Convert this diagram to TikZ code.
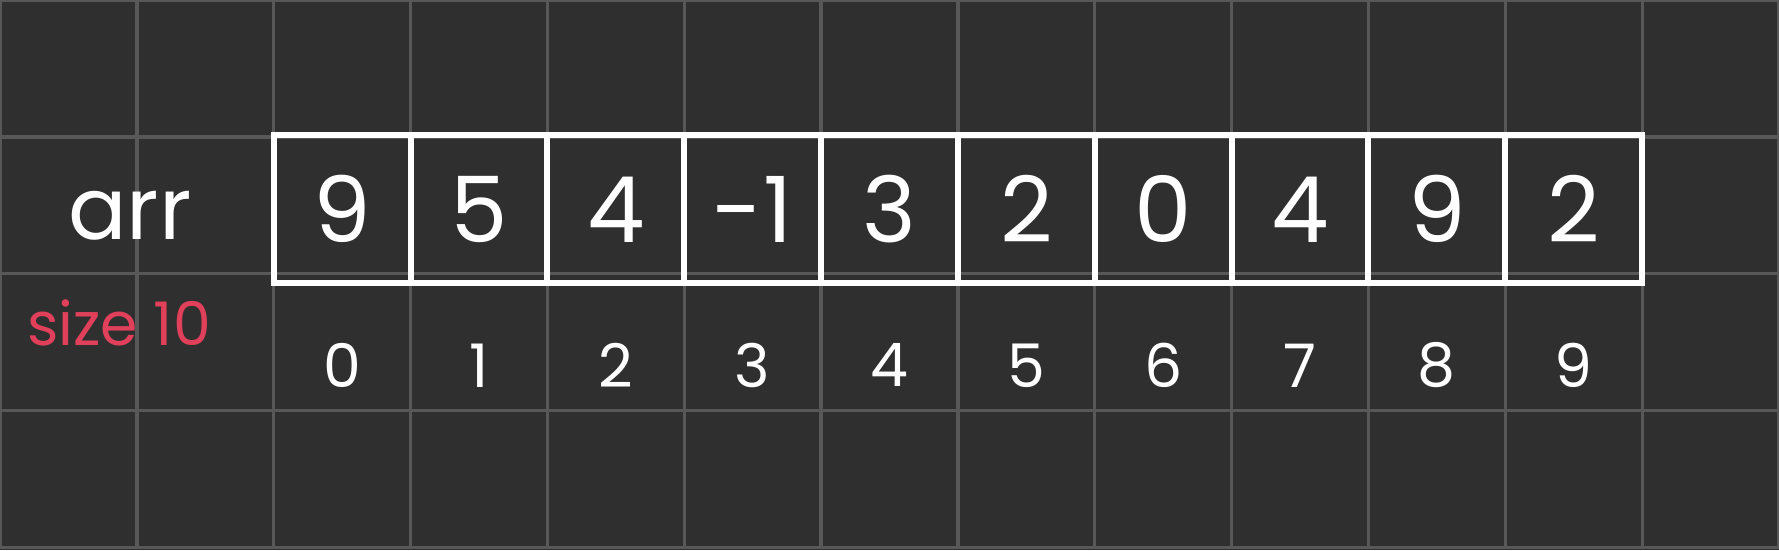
\documentclass[tikz,border=0pt]{standalone}
\usepackage{fontspec}
\setmainfont{Poppins}
\definecolor{board}{HTML}{2F2F2F}
\definecolor{gridgray}{HTML}{585858}
\definecolor{sizered}{HTML}{E0405A}
\begin{document}
\begin{tikzpicture}[
cellnode/.style={rectangle, draw=white, line width=1.25pt, minimum width=1cm, minimum height=1.08cm, inner sep=0pt, text=white, font=\fontsize{19}{23}\selectfont},
indexnode/.style={text=white, inner sep=0pt, font=\fontsize{12.5}{15}\selectfont},
gridline/.style={draw=gridgray, line width=0.7pt},
]
%Board
\fill[board] (0,0) rectangle (13,-4.02);
\useasboundingbox (0,0) rectangle (13,-4.02);
\draw[gridline] (0,-4) grid (13,0);

%Nodes
\node[text=white, font=\fontsize{18}{22}\selectfont] (arr) at (0.95,-1.58) {arr};
\node[text=sizered, font=\fontsize{12.5}{15}\selectfont] (size) at (0.87,-2.36) {size 10};

\node[cellnode] (c0) at (2.5,-1.53) {9};
\node[cellnode] (c1) at (3.5,-1.53) {5};
\node[cellnode] (c2) at (4.5,-1.53) {4};
\node[cellnode] (c3) at (5.5,-1.53) {-1};
\node[cellnode] (c4) at (6.5,-1.53) {3};
\node[cellnode] (c5) at (7.5,-1.53) {2};
\node[cellnode] (c6) at (8.5,-1.53) {0};
\node[cellnode] (c7) at (9.5,-1.53) {4};
\node[cellnode] (c8) at (10.5,-1.53) {9};
\node[cellnode] (c9) at (11.5,-1.53) {2};

\node[indexnode] (i0) at (2.5,-2.67) {0};
\node[indexnode] (i1) at (3.5,-2.67) {1};
\node[indexnode] (i2) at (4.5,-2.67) {2};
\node[indexnode] (i3) at (5.5,-2.67) {3};
\node[indexnode] (i4) at (6.5,-2.67) {4};
\node[indexnode] (i5) at (7.5,-2.67) {5};
\node[indexnode] (i6) at (8.5,-2.67) {6};
\node[indexnode] (i7) at (9.5,-2.67) {7};
\node[indexnode] (i8) at (10.5,-2.67) {8};
\node[indexnode] (i9) at (11.5,-2.67) {9};
\end{tikzpicture}
\end{document}
